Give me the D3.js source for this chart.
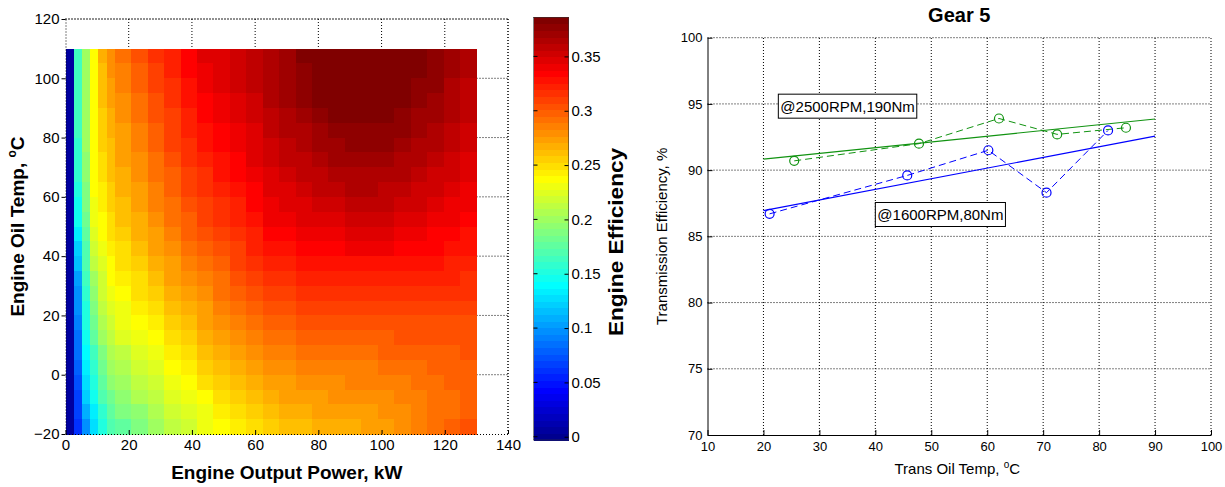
<!DOCTYPE html>
<html>
<head>
<meta charset="utf-8">
<script src="https://cdn.jsdelivr.net/npm/d3@7"></script>
<style>
  body { margin: 0; background: #fff; }
  text { font-family: "Liberation Sans", Arial, Helvetica, sans-serif; fill: #000; }
</style>
</head>
<body>
<svg id="chart" width="1225" height="487"></svg>
<script>
// ---------- Engine efficiency map ----------
// Cell edges along engine output power (kW)
const powerEdges = [0, 2.6, 5.2, 7.8, 10.4, 13, 15.6, 20.8, 26, 31.2, 36.4, 41.6, 46.8, 52, 57.2,
  62.4, 67.6, 72.8, 78, 83.2, 88.4, 93.6, 98.8, 104, 109.2, 114.4, 119.6, 124.8, 130];
// Cell edges along engine oil temperature (°C), hottest row first
const oilTempEdges = [110, 105, 100, 95, 90, 85, 80, 75, 70, 65, 60, 55, 50, 45, 40, 35, 30, 25,
  20, 15, 10, 5, 0, -5, -10, -15, -20];
// Engine efficiency, one row per oil-temperature band (top row = 105..110 °C)
const efficiency = [
  [.005,.164,.203,.238,.265,.279,.290,.303,.314,.325,.335,.344,.349,.354,.360,.366,.373,.380,.385,.386,.386,.386,.386,.386,.383,.377,.372,.366],
  [.005,.164,.203,.239,.263,.277,.288,.300,.311,.322,.333,.341,.347,.352,.358,.365,.372,.379,.384,.386,.386,.386,.386,.385,.381,.376,.369,.363],
  [.005,.164,.203,.240,.261,.274,.285,.297,.308,.319,.330,.338,.344,.350,.356,.363,.370,.377,.383,.386,.386,.386,.386,.383,.379,.374,.367,.361],
  [.005,.163,.202,.240,.259,.271,.282,.294,.305,.316,.327,.335,.341,.347,.354,.362,.368,.374,.380,.384,.386,.386,.385,.381,.377,.371,.365,.359],
  [.005,.163,.201,.240,.257,.268,.279,.291,.302,.313,.324,.332,.338,.345,.352,.360,.365,.371,.376,.380,.382,.383,.381,.378,.373,.368,.362,.356],
  [.005,.162,.200,.240,.255,.266,.276,.288,.299,.310,.321,.329,.335,.342,.349,.357,.362,.367,.372,.376,.378,.379,.377,.374,.370,.365,.359,.353],
  [.005,.160,.198,.239,.253,.264,.274,.285,.296,.307,.318,.326,.332,.339,.347,.355,.359,.364,.369,.373,.375,.375,.374,.371,.367,.362,.356,.350],
  [.005,.158,.196,.238,.251,.262,.271,.282,.293,.303,.314,.322,.329,.336,.344,.352,.356,.361,.365,.369,.371,.371,.370,.367,.363,.358,.353,.347],
  [.005,.156,.193,.237,.249,.260,.268,.279,.290,.300,.311,.319,.326,.333,.341,.349,.353,.357,.361,.365,.367,.367,.366,.363,.359,.355,.350,.344],
  [.005,.152,.190,.235,.246,.257,.265,.276,.287,.297,.307,.315,.322,.329,.337,.346,.349,.353,.357,.360,.362,.362,.361,.358,.355,.351,.347,.342],
  [.005,.148,.186,.232,.243,.254,.262,.273,.283,.293,.303,.311,.318,.325,.333,.343,.346,.349,.352,.355,.357,.357,.356,.354,.351,.347,.343,.339],
  [.005,.143,.182,.228,.240,.251,.259,.269,.280,.289,.299,.307,.314,.321,.329,.339,.341,.344,.347,.349,.351,.351,.350,.348,.346,.343,.339,.336],
  [.005,.135,.177,.224,.236,.248,.256,.266,.276,.285,.295,.303,.310,.317,.325,.334,.336,.339,.341,.343,.345,.345,.344,.342,.340,.337,.334,.331],
  [.005,.122,.172,.218,.231,.244,.252,.262,.272,.281,.290,.298,.305,.312,.320,.329,.331,.333,.335,.337,.339,.339,.338,.336,.334,.332,.330,.327],
  [.005,.113,.168,.211,.226,.240,.248,.257,.267,.276,.285,.293,.300,.307,.315,.323,.325,.327,.329,.330,.331,.331,.330,.329,.328,.326,.325,.323],
  [.005,.106,.164,.203,.221,.235,.243,.252,.262,.271,.280,.287,.294,.301,.309,.317,.319,.321,.322,.324,.325,.325,.324,.323,.322,.321,.320,.319],
  [.005,.100,.160,.196,.216,.230,.238,.247,.257,.266,.275,.282,.289,.296,.303,.310,.312,.314,.315,.317,.318,.318,.318,.317,.317,.316,.315,.314],
  [.005,.096,.155,.188,.211,.225,.233,.242,.251,.260,.269,.276,.283,.290,.297,.304,.306,.307,.309,.310,.311,.311,.311,.311,.311,.311,.310,.310],
  [.005,.092,.150,.181,.204,.219,.228,.237,.246,.255,.264,.271,.278,.284,.291,.298,.300,.301,.303,.304,.305,.305,.305,.306,.306,.306,.306,.306],
  [.005,.087,.145,.174,.198,.212,.222,.231,.240,.249,.258,.265,.272,.278,.285,.292,.294,.295,.297,.298,.300,.300,.300,.301,.302,.302,.303,.303],
  [.005,.083,.140,.167,.191,.206,.215,.225,.234,.243,.252,.259,.266,.272,.279,.286,.288,.289,.291,.292,.294,.294,.295,.296,.297,.298,.300,.301],
  [.005,.078,.135,.160,.185,.199,.209,.218,.227,.237,.246,.253,.260,.266,.273,.280,.282,.283,.285,.286,.287,.288,.290,.291,.293,.295,.297,.299],
  [.005,.074,.128,.152,.177,.192,.202,.211,.221,.231,.240,.247,.254,.260,.267,.274,.276,.278,.280,.281,.283,.284,.286,.288,.290,.292,.295,.298],
  [.005,.069,.120,.145,.169,.185,.195,.204,.214,.224,.233,.240,.247,.254,.261,.268,.271,.273,.275,.277,.278,.280,.282,.285,.288,.291,.294,.298],
  [.005,.065,.110,.136,.160,.177,.187,.196,.207,.217,.226,.234,.241,.248,.256,.263,.266,.269,.271,.273,.274,.276,.279,.282,.286,.290,.294,.299],
  [.004,.062,.100,.126,.150,.168,.179,.188,.200,.210,.220,.229,.237,.242,.250,.256,.260,.264,.266,.268,.270,.272,.275,.280,.286,.290,.295,.301]
];
const colorLimits = [-0.003, 0.386];
const powerTicks = [0, 20, 40, 60, 80, 100, 120, 140];
const oilTempTicks = [-20, 0, 20, 40, 60, 80, 100, 120];
const efficiencyTicks = [0, 0.05, 0.1, 0.15, 0.2, 0.25, 0.3, 0.35];

// ---------- Gear 5 transmission efficiency ----------
const transTemp2500 = [25.5, 47.8, 62.1, 72.5, 84.8];
const transEff2500  = [90.7, 92.0, 93.9, 92.7, 93.2];
const transTemp1600 = [21.1, 45.7, 60.2, 70.6, 81.6];
const transEff1600  = [86.7, 89.6, 91.5, 88.3, 93.0];
const fitRange = [20, 90];
const transTempTicks = [10, 20, 30, 40, 50, 60, 70, 80, 90, 100];
const transEffTicks = [70, 75, 80, 85, 90, 95, 100];
const caseLabels = [
  { text: "@2500RPM,190Nm", temp: 22.66, eff: 94.83 },
  { text: "@1600RPM,80Nm", temp: 40.0, eff: 86.65 }
];

const svg = d3.select("#chart");
svg.append("rect").attr("width", 1225).attr("height", 487).attr("fill", "#fff");

// MATLAB-style jet colormap with m entries
function jetColormap(m) {
  const n = Math.ceil(m / 4);
  const u = [];
  for (let i = 1; i <= n; i++) u.push(i / n);
  for (let i = 1; i < n; i++) u.push(1);
  for (let i = n; i >= 1; i--) u.push(i / n);
  const g0 = Math.ceil(n / 2) - (m % 4 === 1 ? 1 : 0);
  const R = new Array(m).fill(0), G = new Array(m).fill(0), B = new Array(m).fill(0);
  u.forEach((val, k) => {
    const g = g0 + k + 1, r = g + n, b = g - n;
    if (g >= 1 && g <= m) G[g - 1] = val;
    if (r >= 1 && r <= m) R[r - 1] = val;
    if (b >= 1 && b <= m) B[b - 1] = val;
  });
  return d3.range(m).map(i => d3.rgb(R[i] * 255, G[i] * 255, B[i] * 255).formatHex());
}
const jet = jetColormap(64);
const color = d3.scaleQuantize().domain(colorLimits).range(jet);

const dotted = "1,2";

// ===== Left panel: efficiency map =====
const mapX = d3.scaleLinear().domain([0, 140]).range([65.5, 508]);
const mapY = d3.scaleLinear().domain([-20, 120]).range([434, 19]);
const left = svg.append("g");

// grid (drawn first so the map covers it)
const gridL = left.append("g").attr("stroke", "#000").attr("stroke-width", 1)
  .attr("stroke-dasharray", dotted).attr("fill", "none");
powerTicks.slice(1).forEach(p => gridL.append("line")
  .attr("x1", mapX(p)).attr("x2", mapX(p)).attr("y1", mapY(-20)).attr("y2", mapY(120)));
oilTempTicks.slice(1).forEach(t => gridL.append("line")
  .attr("x1", mapX(0)).attr("x2", mapX(140)).attr("y1", mapY(t)).attr("y2", mapY(t)));

// map cells
const cells = [];
efficiency.forEach((row, i) => row.forEach((v, j) => cells.push({
  p0: powerEdges[j], p1: powerEdges[j + 1], t0: oilTempEdges[i + 1], t1: oilTempEdges[i], v
})));
left.append("g").attr("shape-rendering", "crispEdges")
  .selectAll("rect").data(cells).join("rect")
  .attr("x", d => mapX(d.p0))
  .attr("y", d => mapY(d.t1))
  .attr("width", d => mapX(d.p1) - mapX(d.p0) + 0.5)
  .attr("height", d => mapY(d.t0) - mapY(d.t1) + 0.5)
  .attr("fill", d => color(d.v));

// axes
const axL = left.append("g").attr("transform", `translate(${mapX(0)},0)`)
  .call(d3.axisLeft(mapY).tickValues(oilTempTicks).tickSize(4).tickSizeOuter(0).tickPadding(2));
const axB = left.append("g").attr("transform", `translate(0,${mapY(-20)})`)
  .call(d3.axisBottom(mapX).tickValues(powerTicks).tickSize(4).tickSizeOuter(0).tickPadding(3));
[axL, axB].forEach(a => {
  a.select(".domain").attr("stroke", "#000").attr("stroke-dasharray", dotted);
  a.selectAll("text").attr("font-size", 15).attr("fill", "#111");
});
axB.selectAll(".tick line").attr("y2", -4);
axB.selectAll(".tick text").attr("dy", "0.72em").attr("y", 5);
axL.selectAll(".tick line").attr("x2", -4);
// top and right edges shown dotted
left.append("line").attr("x1", mapX(0)).attr("x2", mapX(140)).attr("y1", mapY(120)).attr("y2", mapY(120))
  .attr("stroke", "#000").attr("stroke-dasharray", dotted);
left.append("line").attr("x1", mapX(140)).attr("x2", mapX(140)).attr("y1", mapY(-20)).attr("y2", mapY(120))
  .attr("stroke", "#000").attr("stroke-dasharray", dotted);

left.append("text").attr("x", (mapX(0) + mapX(140)) / 2).attr("y", 479)
  .attr("text-anchor", "middle").attr("font-size", 19).attr("font-weight", "bold")
  .text("Engine Output Power, kW");
const yl = left.append("text").attr("transform", `translate(24,${(mapY(-20) + mapY(120)) / 2}) rotate(-90)`)
  .attr("text-anchor", "middle").attr("font-size", 19).attr("font-weight", "bold");
yl.append("tspan").text("Engine Oil Temp, ");
yl.append("tspan").attr("font-size", 12).attr("dy", -8).text("o");
yl.append("tspan").attr("dy", 8).text("C");

// colour bar
const cbX0 = 533.5, cbX1 = 568.5;
const cbY = d3.scaleLinear().domain(colorLimits).range([440, 17.3]);
const cb = svg.append("g");
const step = (colorLimits[1] - colorLimits[0]) / jet.length;
cb.append("g").attr("shape-rendering", "crispEdges").selectAll("rect").data(jet).join("rect")
  .attr("x", cbX0).attr("width", cbX1 - cbX0)
  .attr("y", (c, i) => cbY(colorLimits[0] + (i + 1) * step))
  .attr("height", (c, i) => cbY(colorLimits[0] + i * step) - cbY(colorLimits[0] + (i + 1) * step) + 0.5)
  .attr("fill", c => c);
cb.append("rect").attr("x", cbX0).attr("y", cbY(colorLimits[1])).attr("width", cbX1 - cbX0)
  .attr("height", cbY(colorLimits[0]) - cbY(colorLimits[1])).attr("fill", "none")
  .attr("stroke", "#333").attr("stroke-width", 0.6);
const cbAx = cb.append("g").attr("transform", `translate(${cbX1},0)`)
  .call(d3.axisRight(cbY).tickValues(efficiencyTicks).tickFormat(d => d === 0 ? "0" : String(d))
    .tickSize(-4).tickSizeOuter(0).tickPadding(3));
cbAx.select(".domain").remove();
cbAx.selectAll("text").attr("font-size", 15).attr("fill", "#111");
cb.selectAll(null).data(efficiencyTicks).join("line")
  .attr("x1", cbX0).attr("x2", cbX0 + 4).attr("y1", d => cbY(d)).attr("y2", d => cbY(d))
  .attr("stroke", "#000");
cb.append("text").attr("transform", `translate(623,242) rotate(-90)`)
  .attr("text-anchor", "middle").attr("font-size", 20).attr("font-weight", "bold")
  .attr("textLength", 188).attr("lengthAdjust", "spacingAndGlyphs")
  .text("Engine Efficiency");

// ===== Right panel: Gear 5 =====
const tX = d3.scaleLinear().domain([10, 100]).range([707.5, 1211]);
const tY = d3.scaleLinear().domain([70, 100]).range([435, 37.7]);
const right = svg.append("g");

const gridR = right.append("g").attr("stroke", "#000").attr("stroke-dasharray", dotted).attr("fill", "none");
transTempTicks.slice(1).forEach(t => gridR.append("line")
  .attr("x1", tX(t)).attr("x2", tX(t)).attr("y1", tY(70)).attr("y2", tY(100)));
transEffTicks.slice(1).forEach(e => gridR.append("line")
  .attr("x1", tX(10)).attr("x2", tX(100)).attr("y1", tY(e)).attr("y2", tY(e)));

const axRL = right.append("g").attr("transform", `translate(${tX(10)},0)`)
  .call(d3.axisLeft(tY).tickValues(transEffTicks).tickSizeInner(-5).tickSizeOuter(0).tickPadding(5));
const axRB = right.append("g").attr("transform", `translate(0,${tY(70)})`)
  .call(d3.axisBottom(tX).tickValues(transTempTicks).tickSizeInner(-5).tickSizeOuter(0).tickPadding(5));
[axRL, axRB].forEach(a => {
  a.select(".domain").attr("stroke", "#000");
  a.selectAll("text").attr("font-size", 13).attr("fill", "#111");
});
axRB.selectAll(".tick text").attr("y", 7);

function fitLine(xs, ys) {
  const mx = d3.mean(xs), my = d3.mean(ys);
  const slope = d3.sum(xs, (x, i) => (x - mx) * (ys[i] - my)) / d3.sum(xs, x => (x - mx) ** 2);
  return fitRange.map(x => [x, my + slope * (x - mx)]);
}
const line = d3.line().x(d => tX(d[0])).y(d => tY(d[1]));
const series = [
  { temps: transTemp2500, effs: transEff2500, color: "#119311" },
  { temps: transTemp1600, effs: transEff1600, color: "#0000ff" }
];
series.forEach(s => {
  const pts = s.temps.map((t, i) => [t, s.effs[i]]);
  right.append("path").attr("d", line(fitLine(s.temps, s.effs)))
    .attr("fill", "none").attr("stroke", s.color).attr("stroke-width", 1.2);
  right.append("path").attr("d", line(pts))
    .attr("fill", "none").attr("stroke", s.color).attr("stroke-width", 1).attr("stroke-dasharray", "7,4");
  right.append("g").selectAll("circle").data(pts).join("circle")
    .attr("cx", d => tX(d[0])).attr("cy", d => tY(d[1])).attr("r", 4.5)
    .attr("fill", "none").attr("stroke", s.color).attr("stroke-width", 1.2);
});

caseLabels.forEach(c => {
  const g = right.append("g");
  const x = tX(c.temp), y = tY(c.eff);
  const t = g.append("text").attr("x", x + 2).attr("y", y).attr("dy", "0.36em")
    .attr("font-size", 15).text(c.text);
  const w = t.node().getComputedTextLength();
  g.insert("rect", "text").attr("x", x).attr("y", y - 12).attr("width", w + 4).attr("height", 24)
    .attr("fill", "#fff").attr("stroke", "#000").attr("stroke-width", 1);
});

right.append("text").attr("x", (tX(10) + tX(100)) / 2).attr("y", 22)
  .attr("text-anchor", "middle").attr("font-size", 20).attr("font-weight", "bold").text("Gear 5");
const xl = right.append("text").attr("x", (tX(10) + tX(100)) / 2 - 2).attr("y", 474)
  .attr("text-anchor", "middle").attr("font-size", 15);
xl.append("tspan").text("Trans Oil Temp, ");
xl.append("tspan").attr("font-size", 10).attr("dy", -6).text("o");
xl.append("tspan").attr("dy", 6).text("C");
right.append("text").attr("transform", `translate(667,${(tY(70) + tY(100)) / 2}) rotate(-90)`)
  .attr("text-anchor", "middle").attr("font-size", 15).text("Transmission Efficiency, %");
</script>
</body>
</html>
